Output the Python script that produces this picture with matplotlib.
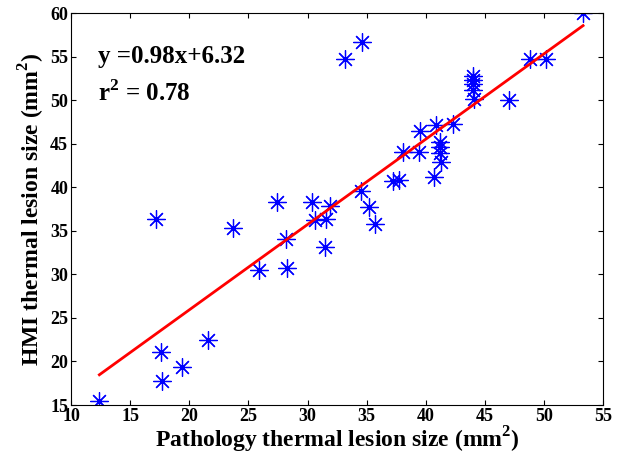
import matplotlib
matplotlib.use('Agg')
import matplotlib.pyplot as plt
import numpy as np

# pathology (x) vs HMI (y) thermal lesion sizes, mm^2
pathology = [12.4, 17.6, 17.7, 17.2, 19.4, 21.6, 23.7, 25.9, 27.4, 28.2,
             28.3, 30.4, 30.6, 31.6, 31.5, 31.9, 33.2, 34.6, 34.5, 35.2,
             35.7, 37.2, 37.7, 38.1, 39.4, 39.5, 40.7, 40.9, 41.2, 41.2,
             41.2, 41.3, 42.3, 44.0, 44.0, 44.0, 44.0, 44.1, 47.0, 48.8,
             50.2, 53.3]
hmi = [15.5, 21.1, 17.7, 36.3, 19.4, 22.5, 35.3, 30.5, 38.3, 34.1,
       30.7, 38.3, 36.2, 36.3, 33.1, 37.8, 54.7, 56.7, 39.6, 37.7,
       35.8, 40.7, 40.8, 44.0, 44.1, 46.5, 41.2, 47.1, 45.2, 44.6,
       43.9, 42.9, 47.3, 52.8, 52.3, 51.8, 51.2, 50.1, 50.0, 54.7,
       54.7, 60.0]

slope = 0.98
intercept = 6.32
r2 = 0.78

plt.rcParams['font.family'] = 'Liberation Serif'
plt.rcParams['font.weight'] = 'bold'
plt.rcParams['mathtext.fontset'] = 'custom'
plt.rcParams['mathtext.bf'] = 'Liberation Serif:bold'

fig = plt.figure(figsize=(6.21, 4.65), dpi=100)
ax = fig.add_axes([0.1143, 0.129, 0.857, 0.843])

# matlab style '*' marker: 8-spoke asterisk
ax.plot(pathology, hmi, linestyle='none', marker=(8, 2, 0), color='blue',
        markersize=13, markeredgewidth=0.9)
xfit = np.array([min(pathology), max(pathology)])
ax.plot(xfit, slope * xfit + intercept, color='red', linewidth=2)

ax.set_xlim(10, 55)
ax.set_ylim(15, 60)
ax.set_xticks(np.arange(10, 56, 5))
ax.set_yticks(np.arange(15, 61, 5))
ax.tick_params(direction='in', top=True, right=True, labelsize=13, pad=2)
for lab in ax.get_xticklabels() + ax.get_yticklabels():
    lab.set_fontweight('bold')

ax.set_xlabel('Pathology thermal lesion size (mm$^\\mathbf{2}$)', fontsize=17,
              fontweight='bold', labelpad=0)
ax.set_ylabel('HMI thermal lesion size (mm$^\\mathbf{2}$)', fontsize=17,
              fontweight='bold', labelpad=2)

ax.text(0.05, 0.888, 'y =%.2fx+%.2f' % (slope, intercept), transform=ax.transAxes,
        fontsize=18, fontweight='bold', va='center')
ax.text(0.05, 0.796, 'r$^\\mathbf{2}$ = %.2f' % r2, transform=ax.transAxes,
        fontsize=18, fontweight='bold', va='center')

fig.savefig('out.png', dpi=100)
